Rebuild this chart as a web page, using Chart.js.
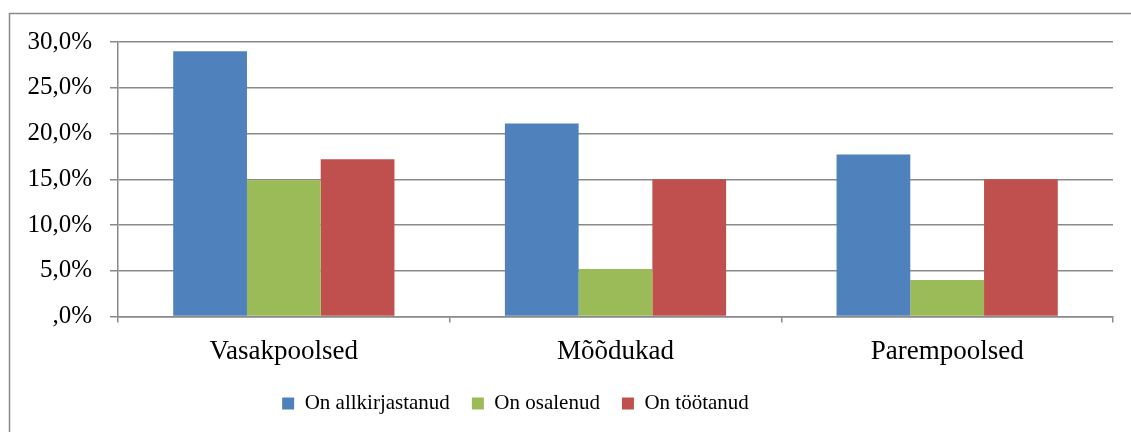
<!DOCTYPE html>
<html>
<head>
<meta charset="utf-8">
<script src="https://cdn.jsdelivr.net/npm/chart.js@4"></script>
<style>
  html, body { margin: 0; padding: 0; background: #fff; }
  #wrap { width: 1131px; height: 432px; position: relative; }
</style>
</head>
<body>
<div id="wrap"><canvas id="chart" width="1131" height="432"></canvas></div>
<script>
const categories = ['Vasakpoolsed', 'Mõõdukad', 'Parempoolsed'];
const signed = [29.0, 21.1, 17.7];
const participated = [14.9, 5.2, 4.0];
const worked = [17.2, 15.0, 15.0];
const yTickLabels = [',0%', '5,0%', '10,0%', '15,0%', '20,0%', '25,0%', '30,0%'];

const gridColor = '#8a8a8a';
const serif = "'Liberation Serif', 'Times New Roman', serif";

// outer frame of the chart, like the office chart border
const framePlugin = {
    id: 'frame',
    beforeDraw(chart) {
        const c = chart.ctx;
        c.save();
        c.strokeStyle = '#8a8a8a';
        c.lineWidth = 1.5;
        c.strokeRect(9.5, 13.5, 1300, 600);
        c.restore();
    },
    // the legend in the original sits a bit left of centre
    afterLayout(chart) {
        if (chart.legend) chart.legend.right -= 102;
    }
};

const ctx = document.getElementById('chart').getContext('2d');
new Chart(ctx, {
    type: 'bar',
    data: {
        labels: categories,
        datasets: [
            { label: 'On allkirjastanud', data: signed, backgroundColor: '#4F81BD' },
            { label: 'On osalenud', data: participated, backgroundColor: '#9BBB59' },
            { label: 'On töötanud', data: worked, backgroundColor: '#C0504D' }
        ]
    },
    options: {
        responsive: false,
        animation: false,
        categoryPercentage: 0.667,
        barPercentage: 1,
        layout: { padding: { left: 20, right: 18, top: 42, bottom: 8 } },
        plugins: {
            legend: {
                position: 'bottom',
                labels: {
                    color: '#000',
                    boxWidth: 12,
                    boxHeight: 12,
                    padding: 22,
                    font: { family: serif, size: 21 }
                }
            },
            tooltip: { enabled: false }
        },
        scales: {
            x: {
                grid: { color: gridColor, lineWidth: 1.5, drawOnChartArea: false, tickLength: 6 },
                border: { color: gridColor, width: 1.5 },
                ticks: { color: '#000', padding: 13, font: { family: serif, size: 27 } },
                afterFit: (s) => { s.height -= 10; }
            },
            y: {
                min: 0,
                max: 30,
                ticks: {
                    stepSize: 5,
                    color: '#000',
                    padding: 18,
                    font: { family: serif, size: 25 },
                    callback: (v, i) => yTickLabels[i]
                },
                grid: { color: gridColor, lineWidth: 1.5, tickLength: 8 },
                border: { color: gridColor, width: 1.5 },
                afterFit: (s) => { s.width = 98; }
            }
        }
    },
    plugins: [framePlugin]
});
</script>
</body>
</html>
